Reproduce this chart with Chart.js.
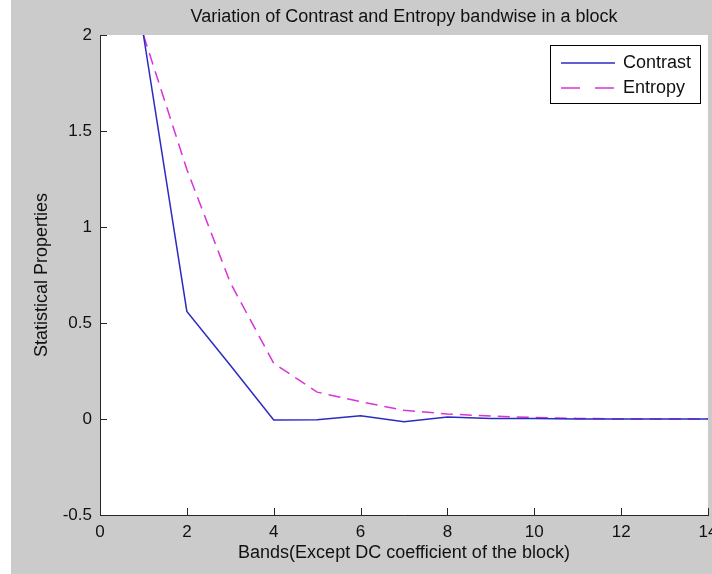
<!DOCTYPE html>
<html>
<head>
<meta charset="utf-8">
<script src="https://cdn.jsdelivr.net/npm/chart.js@4/dist/chart.umd.min.js"></script>
<style>
  html, body { margin: 0; padding: 0; background: #fff; }
  #wrap { width: 712px; height: 574px; }
</style>
</head>
<body>
<div id="wrap"><canvas id="chart" width="712" height="574"></canvas></div>
<script>
// data
const bands = [1, 2, 3, 4, 5, 6, 7, 8, 9, 10, 11, 12, 13, 14];
const contrast = [2.0, 0.56, 0.28, -0.005, -0.004, 0.017, -0.014, 0.01, 0.003, 0.003, 0, 0, 0, 0];
const entropy = [2.0, 1.3, 0.71, 0.29, 0.14, 0.09, 0.045, 0.026, 0.015, 0.008, 0.003, 0, 0, 0];
const seriesNames = ['Contrast', 'Entropy'];
const xTicks = [0, 2, 4, 6, 8, 10, 12, 14];
const yTicks = [-0.5, 0, 0.5, 1, 1.5, 2];

const FONT = 'Liberation Sans, Arial, sans-serif';
const AXIS = '#262626';

// grey figure background, white strip at the left, white plot area
const background = {
    id: 'background',
    beforeDraw(chart) {
        const { ctx, chartArea: a } = chart;
        ctx.save();
        ctx.fillStyle = '#cbcbcb';
        ctx.fillRect(0, 0, chart.width, chart.height);
        ctx.fillStyle = '#ffffff';
        ctx.fillRect(0, 0, 11, chart.height);
        ctx.fillRect(a.left, a.top, a.right - a.left, a.bottom - a.top);
        ctx.restore();
    }
};

// matlab style inward ticks + boxed legend
const decorations = {
    id: 'decorations',
    afterDraw(chart) {
        const { ctx, chartArea: a, scales } = chart;
        ctx.save();
        ctx.strokeStyle = AXIS;
        ctx.lineWidth = 1;
        ctx.beginPath();
        xTicks.forEach(v => {
            const px = Math.round(scales.x.getPixelForValue(v)) + 0.5;
            ctx.moveTo(px, a.bottom);
            ctx.lineTo(px, a.bottom - 7);
        });
        yTicks.forEach(v => {
            const py = Math.round(scales.y.getPixelForValue(v)) + 0.5;
            ctx.moveTo(a.left, py);
            ctx.lineTo(a.left + 7, py);
        });
        ctx.stroke();

        // legend
        const bx = 550.5, by = 45.5, bw = 150, bh = 58;
        ctx.fillStyle = '#ffffff';
        ctx.fillRect(bx, by, bw, bh);
        ctx.strokeStyle = '#000000';
        ctx.strokeRect(bx, by, bw, bh);
        ctx.font = '18px ' + FONT;
        ctx.textBaseline = 'middle';
        chart.data.datasets.forEach((ds, i) => {
            const y = 63 + i * 25;
            ctx.strokeStyle = ds.borderColor;
            ctx.lineWidth = 1.5;
            ctx.setLineDash(i === 1 ? [19, 15] : []);
            ctx.beginPath();
            ctx.moveTo(561, y);
            ctx.lineTo(615, y);
            ctx.stroke();
            ctx.setLineDash([]);
            ctx.fillStyle = '#111111';
            ctx.fillText(ds.label, 623, y);
        });
        ctx.restore();
    }
};

new Chart(document.getElementById('chart'), {
    type: 'line',
    data: {
        datasets: [{
            label: seriesNames[0],
            data: bands.map((b, i) => ({ x: b, y: contrast[i] })),
            borderColor: '#2b2bc4',
            borderWidth: 1.5,
            pointRadius: 0,
            tension: 0
        }, {
            label: seriesNames[1],
            data: bands.map((b, i) => ({ x: b, y: entropy[i] })),
            borderColor: '#d933d9',
            borderWidth: 1.5,
            borderDash: [12, 7],
            pointRadius: 0,
            tension: 0
        }]
    },
    options: {
        responsive: false,
        animation: false,
        layout: { padding: { left: 0, right: 4, top: 0, bottom: 0 } },
        plugins: {
            legend: { display: false },
            tooltip: { enabled: false },
            title: {
                display: true,
                fullSize: false,
                text: 'Variation of Contrast and Entropy bandwise in a block',
                color: '#111111',
                font: { family: FONT, size: 18, weight: 'normal' },
                padding: { top: 6, bottom: 7.4 }
            }
        },
        scales: {
            x: {
                type: 'linear',
                min: 0,
                max: 14,
                afterBuildTicks: s => { s.ticks = xTicks.map(v => ({ value: v })); },
                afterFit: s => { s.height = 59; s.paddingLeft = 0; s.paddingRight = 0; },
                grid: { display: false, drawTicks: false },
                border: { display: true, color: AXIS, width: 1 },
                ticks: {
                    color: '#111111',
                    font: { family: FONT, size: 17 },
                    padding: 7,
                    maxRotation: 0,
                    autoSkip: false
                },
                title: {
                    display: true,
                    text: 'Bands(Except DC coefficient of the block)',
                    color: '#111111',
                    font: { family: FONT, size: 18 },
                    padding: { top: 0, bottom: 10 }
                }
            },
            y: {
                type: 'linear',
                min: -0.5,
                max: 2,
                afterBuildTicks: s => { s.ticks = yTicks.map(v => ({ value: v })); },
                afterFit: s => { s.width = 100; s.paddingTop = 0; s.paddingBottom = 0; },
                grid: { display: false, drawTicks: false },
                border: { display: true, color: AXIS, width: 1 },
                ticks: {
                    color: '#111111',
                    font: { family: FONT, size: 17 },
                    padding: 8,
                    callback: v => String(v)
                },
                title: {
                    display: true,
                    text: 'Statistical Properties',
                    color: '#111111',
                    font: { family: FONT, size: 18 },
                    padding: { top: 31, bottom: 0 }
                }
            }
        }
    },
    plugins: [background, decorations]
});
</script>
</body>
</html>
